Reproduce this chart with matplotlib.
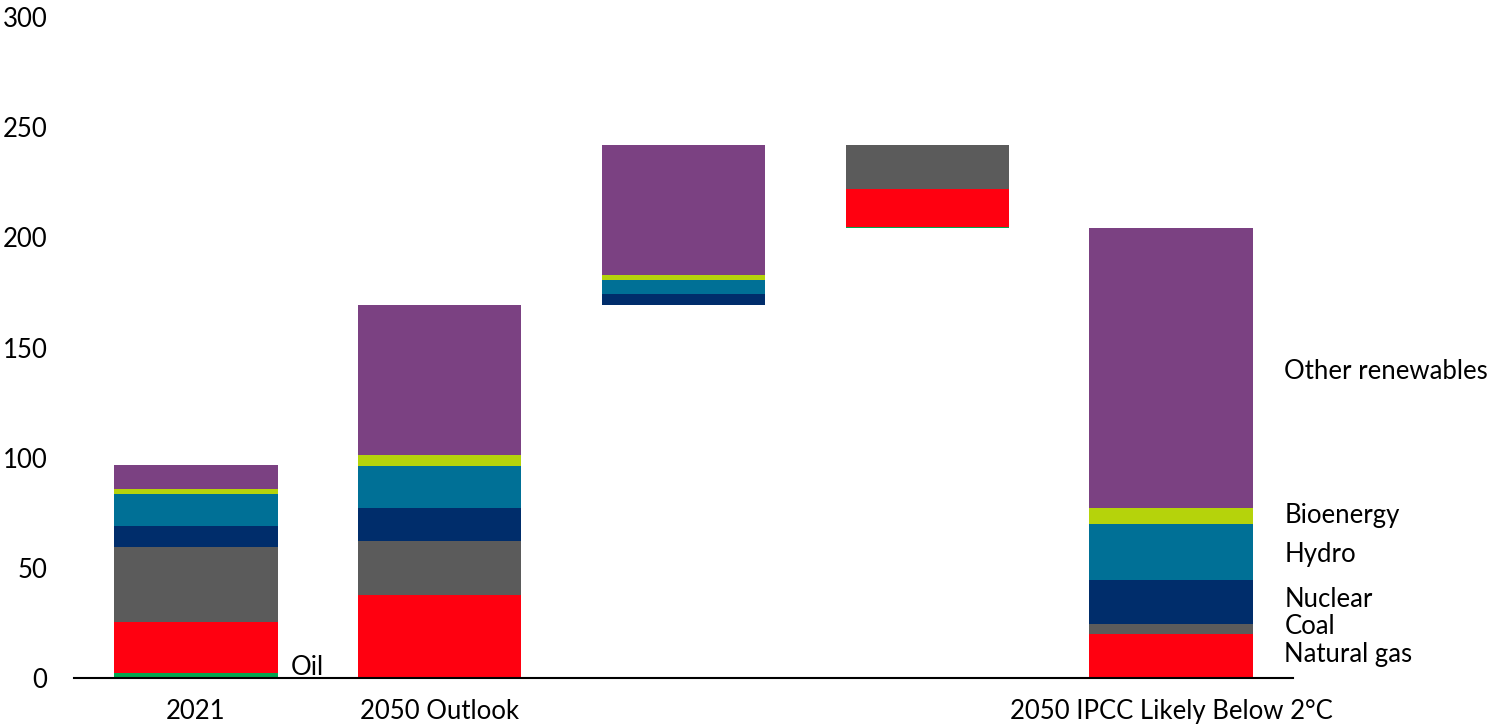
import numpy as np
from matplotlib import pyplot as plt

plt.rcParams['font.family'] = ['Lato', 'DejaVu Sans']

sources = ['Oil', 'Natural gas', 'Coal', 'Nuclear', 'Hydro', 'Bioenergy', 'Other renewables']
colors = ['#00a650', '#ff0010', '#5b5b5b', '#002d6b', '#007096', '#b5d30b', '#7b4182']

y2021 = [2.3, 23.2, 34.1, 9.5, 14.5, 2.3, 10.9]
outlook2050 = [0.3, 37.3, 24.5, 15.0, 19.1, 5.0, 68.2]
ipcc2050 = [0.2, 20.0, 4.5, 19.8, 25.6, 7.3, 127.0]

categories = ['2021', '2050 Outlook', '', '', '2050 IPCC Likely Below 2°C']

# label heights for the right-hand labels
label_y = [None, 10.5, 23.6, 35.5, 55.9, 73.6, 139]

fig = plt.figure(figsize=(15, 7.26), dpi=100)
ax = fig.add_axes([0.0493, 0.066, 0.8127, 0.9106])

w = 0.67
# plain stacks
for xi, vals in [(0, y2021), (1, outlook2050), (4, ipcc2050)]:
    bottom = 0
    for v, c in zip(vals, colors):
        ax.bar(xi, v, w, bottom=bottom, color=c, linewidth=0)
        bottom += v

# waterfall: increases then decreases
diff = np.array(ipcc2050) - np.array(outlook2050)
base = sum(outlook2050)
for v, c in zip(diff, colors):
    if v > 0:
        ax.bar(2, v, w, bottom=base, color=c, linewidth=0)
        base += v
top = base
for v, c in zip(diff[::-1], colors[::-1]):
    if v < 0:
        ax.bar(3, v, w, bottom=top, color=c, linewidth=0)
        top += v

fs = 18.5
for name, yy in zip(sources, label_y):
    if yy is not None:
        ax.text(4.465, yy, name, fontsize=fs, va='center', ha='left', clip_on=False)
ax.text(0.39, 5, 'Oil', fontsize=fs, va='center', ha='left')

ax.set_xlim(-0.5, 4.5)
ax.set_ylim(0, 300)
ax.set_yticks(range(0, 301, 50))
ax.set_xticks(range(5))
ax.set_xticklabels(categories)
ax.tick_params(axis='both', length=0, labelsize=fs)
ax.tick_params(axis='y', pad=19)
ax.tick_params(axis='x', pad=15)
for s in ['top', 'right', 'left']:
    ax.spines[s].set_visible(False)
ax.spines['bottom'].set_linewidth(1.5)

plt.savefig('out.png')
